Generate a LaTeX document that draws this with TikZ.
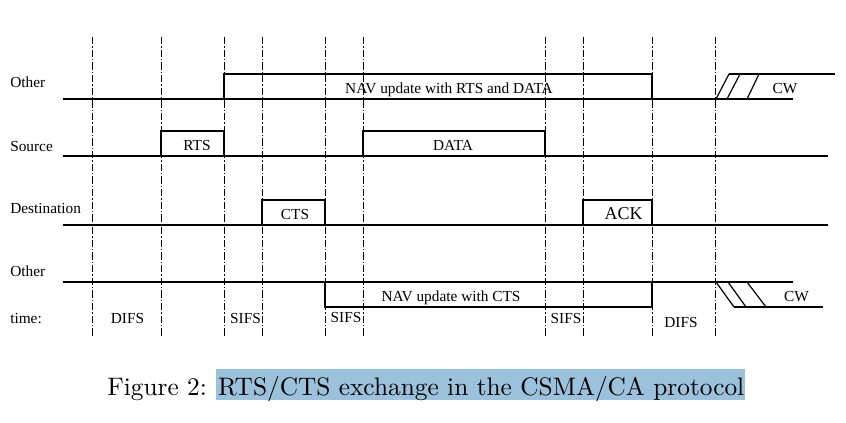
\documentclass[tikz,border=0pt]{standalone}
\usepackage{fontspec}
\newfontfamily\tnr{Liberation Serif}
\newfontfamily\capfont{lmroman10-regular}[Extension=.otf]
\definecolor{hl}{RGB}{155,193,220}
\begin{document}
\begin{tikzpicture}[x=0.75pt,y=-0.75pt,
  sig/.style={line width=0.9pt,line join=miter},
  vline/.style={line width=0.55pt,dash pattern=on 5.5pt off 1.6pt on 0.8pt off 1.6pt},
  lbl/.style={font=\tnr\fontsize{11.5}{13}\selectfont,inner sep=0pt,anchor=base},
  side/.style={lbl,anchor=base west},
  big/.style={font=\tnr\fontsize{13.5}{15}\selectfont,inner sep=0pt,anchor=base}]
\useasboundingbox (0,0) rectangle (846,422);
% vertical dash-dot time markers
\foreach \x in {92,161,224,262,325,363,545,583,652,715}
  \draw[vline] (\x,37) -- (\x,336);
% row 1: Other
\draw[sig] (63,99) -- (793,99);
\draw[sig] (224,99) -- (224,74) -- (652,74) -- (652,99);
\draw[sig] (729,74) -- (835,74);
\draw[sig] (716,99) -- (729,74);
\draw[sig] (727,99) -- (740,74);
\draw[sig] (747,99) -- (759,74);
% row 2: Source
\draw[sig] (63,156) -- (828,156);
\draw[sig] (161,156) -- (161,131) -- (224,131) -- (224,156);
\draw[sig] (363,156) -- (363,131) -- (545,131) -- (545,156);
% row 3: Destination
\draw[sig] (63,225) -- (828,225);
\draw[sig] (262,225) -- (262,200) -- (325,200) -- (325,225);
\draw[sig] (583,225) -- (583,200) -- (652,200) -- (652,225);
% row 4: Other
\draw[sig] (63,282) -- (793,282);
\draw[sig] (325,282) -- (325,307) -- (652,307) -- (652,282);
\draw[sig] (734,307) -- (823,307);
\draw[sig] (716,282) -- (734,307);
\draw[sig] (728,282) -- (746,307);
\draw[sig] (747,282) -- (766,307);
% side labels
\node[side] (l1) at (10,87) {Other};
\node[side] (l2) at (10,151) {Source};
\node[side] (l3) at (10,213) {Destination};
\node[side] (l4) at (10,276) {Other};
\node[side] (l5) at (10,323) {time:};
% frame labels
\node[lbl] (nav1) at (449,93) {NAV update with RTS and DATA};
\node[lbl] (cw1) at (785,93) {CW};
\node[lbl] (rts) at (197,150) {RTS};
\node[lbl] (data) at (453,150) {DATA};
\node[lbl] (cts) at (295,219) {CTS};
\node[big] (ack) at (623.5,219) {ACK};
\node[lbl] (nav2) at (451,301) {NAV update with CTS};
\node[lbl] (cw2) at (796.5,301) {CW};
% time labels
\node[lbl] (difs1) at (127.5,323) {DIFS};
\node[lbl] (sifs1) at (245.5,323) {SIFS};
\node[lbl] (sifs2) at (346,322) {SIFS};
\node[lbl] (sifs3) at (566,323) {SIFS};
\node[lbl] (difs2) at (681,327) {DIFS};
% caption
\fill[hl] (216,369) rectangle (745,400);
\node[inner sep=0pt,anchor=base west,font=\capfont\fontsize{19}{23}\selectfont] (cap) at (107,395)
  {Figure 2: RTS/CTS exchange in the CSMA/CA protocol};
\end{tikzpicture}
\end{document}
